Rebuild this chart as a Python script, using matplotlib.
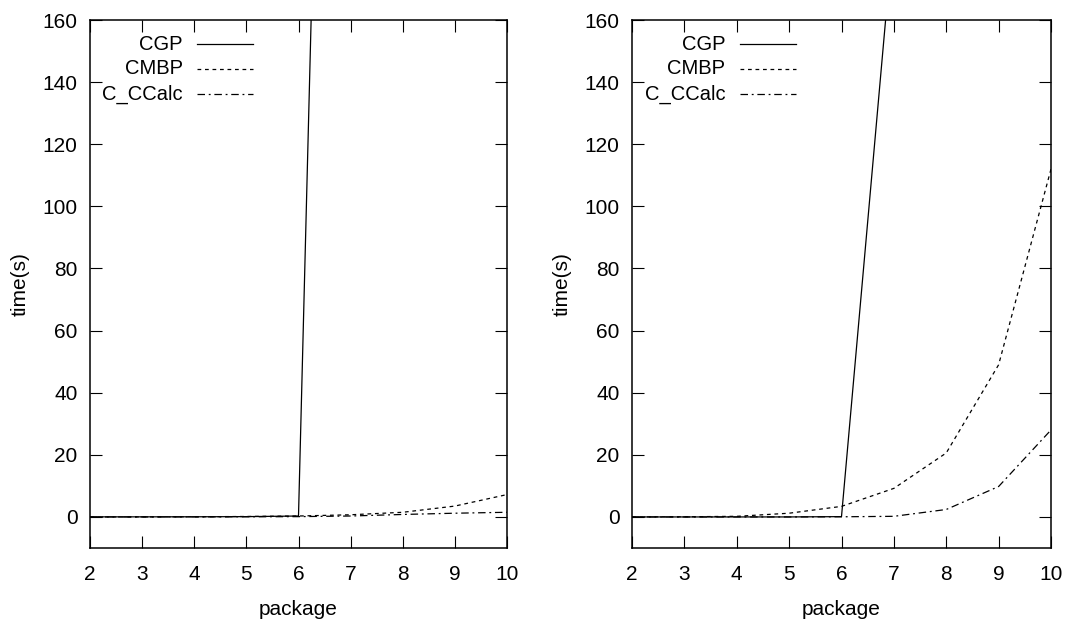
import matplotlib.pyplot as plt

plt.rcParams['font.family'] = ['Liberation Sans', 'DejaVu Sans']

packages = [2, 3, 4, 5, 6, 7, 8, 9, 10]
cgp_packages = [2, 3, 4, 5, 6, 7]

# left panel
left_cgp = [0.02, 0.03, 0.05, 0.1, 0.3, 660]
left_cmbp = [0.0, 0.01, 0.05, 0.15, 0.3, 0.7, 1.5, 3.5, 7.2]
left_ccalc = [0.0, 0.01, 0.02, 0.05, 0.1, 0.3, 0.8, 1.2, 1.5]

# right panel
right_cgp = [0.0, 0.0, 0.0, 0.0, 0.1, 190]
right_cmbp = [0.01, 0.05, 0.2, 1.2, 3.4, 9.2, 20.6, 49, 112]
right_ccalc = [0.0, 0.0, 0.0, 0.0, 0.05, 0.2, 2.4, 9.8, 28]

labels = ["CGP", "CMBP", "C_CCalc"]
styles = ["-", (0, (3, 3)), (0, (6, 3, 1.5, 3))]

W, H = 1066, 631
fig = plt.figure(figsize=(W / 100, H / 100), dpi=100)
ax1 = fig.add_axes([90 / W, (H - 548) / H, 417 / W, 528 / H])
ax2 = fig.add_axes([632 / W, (H - 548) / H, 419 / W, 528 / H])

panels = [
    (ax1, left_cgp, left_cmbp, left_ccalc),
    (ax2, right_cgp, right_cmbp, right_ccalc),
]

for ax, cgp, cmbp, ccalc in panels:
    ax.plot(cgp_packages, cgp, color="black", lw=0.9, ls=styles[0])
    ax.plot(packages, cmbp, color="black", lw=0.9, ls=styles[1])
    ax.plot(packages, ccalc, color="black", lw=0.9, ls=styles[2])

    ax.set_xlim(2, 10)
    ax.set_ylim(-10, 160)
    ax.set_xticks(packages)
    ax.set_yticks(range(0, 161, 20))
    ax.tick_params(direction="in", length=8.5, width=0.8, top=True, right=True,
                   labelsize=15)
    ax.tick_params(axis="x", pad=12)
    ax.tick_params(axis="y", pad=9)
    for s in ax.spines.values():
        s.set_linewidth(1.1)
    ax.set_xlabel("package", fontsize=15, labelpad=12)
    ax.set_ylabel("time(s)", fontsize=15, labelpad=9)

    # gnuplot-style key: text right-aligned, sample to the right
    for i, (lab, st) in enumerate(zip(labels, styles)):
        y = 1 - (24 + 25 * i) / 528
        ax.text(93 / 417, y, lab, transform=ax.transAxes, ha="right",
                va="center", fontsize=14.5)
        ax.plot([107 / 417, 163 / 417], [y, y], transform=ax.transAxes,
                color="black", lw=0.9, ls=st, clip_on=False)

fig.savefig("out.png", dpi=100)
